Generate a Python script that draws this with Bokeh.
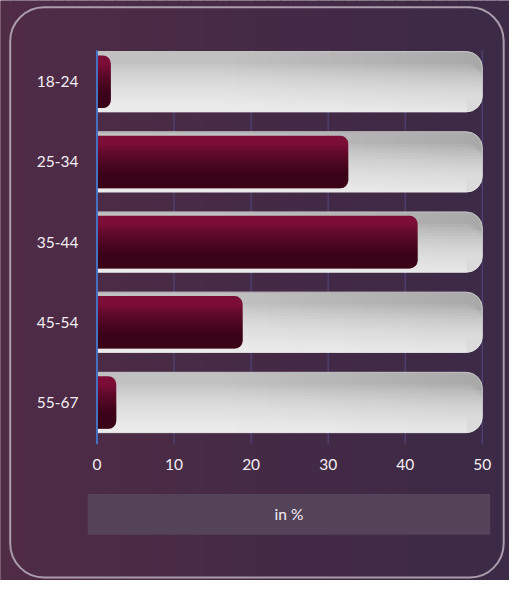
import numpy as np
from bokeh.plotting import figure
from bokeh.models import Range1d, ColumnDataSource
from bokeh.core.properties import value
from bokeh.embed import file_html
from bokeh.resources import INLINE

# ---------------- data ----------------
categories = ["18-24", "25-34", "35-44", "45-54", "55-67"]
shares = [1.8, 32.6, 41.6, 18.9, 2.5]
scale_max = 50
tick_values = [0, 10, 20, 30, 40, 50]
tick_labels = ["0", "10", "20", "30", "40", "50"]
axis_title = "in %"

# ---------------- layout helpers (reference pixels -> data) ----------------
REF_W, REF_H = 525, 596
W, H = 509, 580
X0_PX, XMAX_PX = 99.5, 497.0
ROW0_PX, ROW_STEP = 83.5, 82.4
n = len(categories)
kx = (XMAX_PX - X0_PX) / scale_max


def fx(px):
    return (px - X0_PX) / kx


def fy(py):
    return (n - 1) - (py - ROW0_PX) / ROW_STEP


ys = [n - 1 - i for i in range(n)]  # first category on top
FONT = "Lato"
TXT = "#f3eef3"
FS = "15.5px"

p = figure(width=W, height=H,
           x_range=Range1d(fx(0), fx(REF_W)), y_range=Range1d(fy(REF_H), fy(0)),
           output_backend="svg", toolbar_location=None,
           x_axis_location=None, y_axis_location=None,
           min_border=0, min_border_left=0, min_border_right=0,
           min_border_top=0, min_border_bottom=0)
p.grid.visible = False
p.outline_line_color = None
p.background_fill_color = "#482c46"
p.border_fill_color = "#482c46"

# background horizontal gradient
c_left = np.array([0x50, 0x2c, 0x46])
c_right = np.array([0x3c, 0x2a, 0x47])
NS = 40
edges = np.linspace(0, REF_W, NS + 1)
cols = []
for i in range(NS):
    t = i / (NS - 1)
    c = (c_left * (1 - t) + c_right * t).astype(int)
    cols.append("#%02x%02x%02x" % tuple(c))
p.quad(left=[fx(e - 0.5) for e in edges[:-1]], right=[fx(e + 1) for e in edges[1:]],
       bottom=fy(REF_H), top=fy(0), fill_color=cols, line_color=None)

# rounded frame
p.quad(left=fx(10), right=fx(519), top=fy(7), bottom=fy(593),
       fill_color=None, line_color="#aa9caa", line_width=2, border_radius=34)

# gridlines
p.segment(x0=tick_values[1:], x1=tick_values[1:], y0=fy(51), y1=fy(456),
          line_color="#4c4070", line_width=1.5)

# track bars (gray gradient: light bottom-left, darker top-right)
TH_PX = 62
th = TH_PX / ROW_STEP
R_T = 16
p.hbar(y=ys, left=0, right=scale_max, height=th, fill_color="#a9a9a9",
       line_color="#c8c8c8", line_width=1, border_radius=(0, R_T, R_T, 0))
hy, hr = [], []
NL = 36
for y in ys:
    for k in range(1, NL):
        hy.append(y)
        hr.append(scale_max * k / NL)
p.hbar(y=hy, left=0, right=hr, height=th - 0.01, fill_color="white",
       fill_alpha=0.0145, line_color=None)

fracs = np.linspace(0.06, 0.80, 16)
groups = {"low": ([], [], []), "mid": ([], [], []), "high": ([], [], [])}
for y in ys:
    for f in fracs:
        hgt = th * f
        hpx = TH_PX * f
        key = "low" if hpx < R_T else ("mid" if hpx <= TH_PX - R_T else "high")
        g = groups[key]
        g[0].append(y - th / 2 + hgt / 2)
        g[1].append(hgt)
        g[2].append(scale_max - (R_T / kx if key == "low" else 0))
radii = {"low": 0, "mid": (0, 0, R_T, 0), "high": (0, R_T, R_T, 0)}
for key, (gy, gh, gr) in groups.items():
    if gy:
        p.hbar(y=gy, left=0, right=gr, height=gh, fill_color="white",
               fill_alpha=0.082, line_color=None, border_radius=radii[key])

# value bars
vb = 54 / ROW_STEP
R_V = 8
src = ColumnDataSource(dict(y=ys, share=shares, cat=categories))
p.hbar(y="y", left=0, right="share", height=vb, source=src,
       fill_color="#7c0d37", line_color=None, border_radius=(0, R_V, R_V, 0))
dyv, dhv, drv = [], [], []
for y, s in zip(ys, shares):
    for f in np.linspace(0.3, 0.82, 10):
        hgt = vb * f
        dyv.append(y - vb / 2 + hgt / 2)
        dhv.append(hgt)
        drv.append(s)
p.hbar(y=dyv, left=0, right=drv, height=dhv, fill_color="black",
       fill_alpha=0.066, line_color=None, border_radius=(0, 0, R_V, 0))

# value axis line
p.segment(x0=[0], x1=[0], y0=[fy(51)], y1=[fy(456)], line_color="#4472c4", line_width=2)

# category labels
p.text(x=fx(59), y=ys, text=categories, text_align="center", text_baseline="middle",
       text_color=TXT, text_font=value(FONT), text_font_size=FS)

# tick labels
p.text(x=tick_values, y=fy(477), text=tick_labels, text_align="center",
       text_baseline="middle", text_color=TXT, text_font=value(FONT),
       text_font_size=FS)

# axis title box
p.quad(left=fx(90), right=fx(505), top=fy(507), bottom=fy(549),
       fill_color="#554359", line_color=None)
p.text(x=[(fx(90) + fx(505)) / 2], y=[fy(528)], text=[axis_title], text_align="center",
       text_baseline="middle", text_color=TXT, text_font=value(FONT),
       text_font_size=FS)

open("out.html", "w").write(file_html(p, INLINE))
